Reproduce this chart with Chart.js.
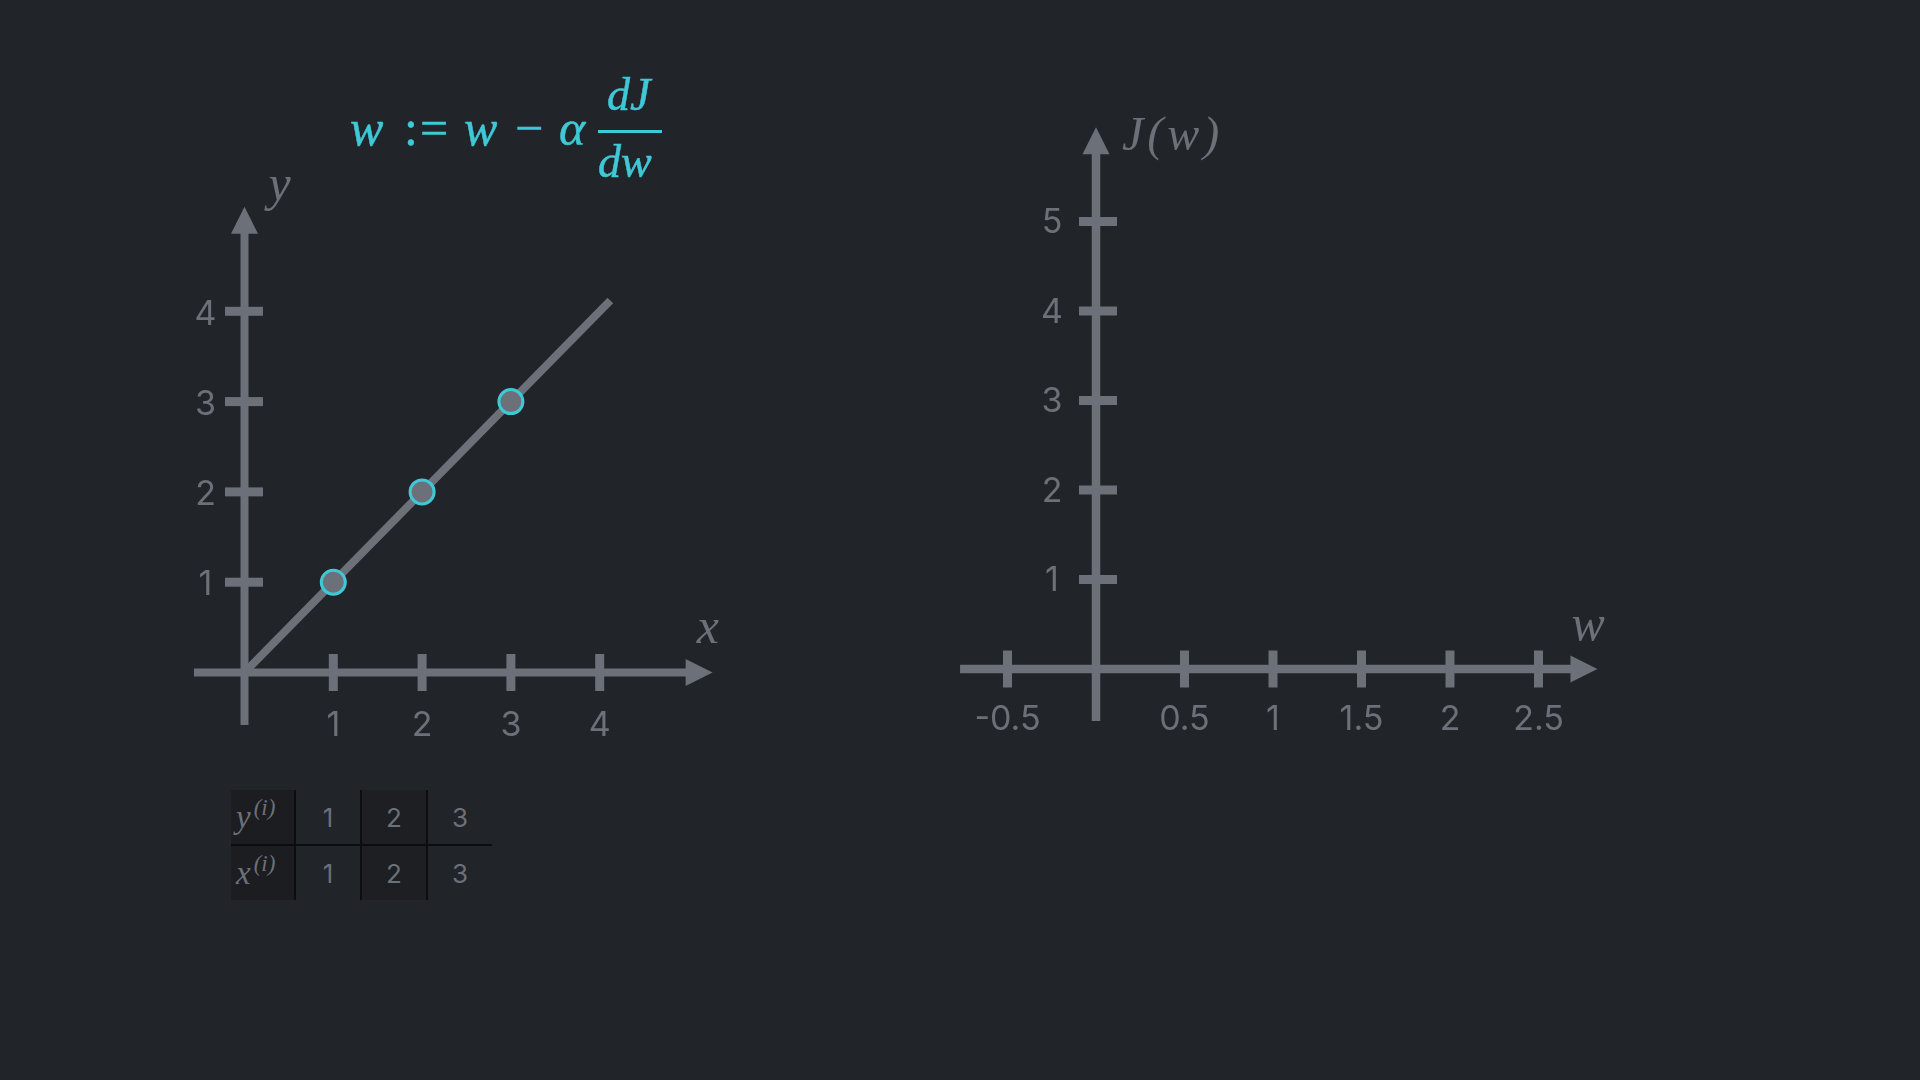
<!DOCTYPE html>
<html><head><meta charset="utf-8">
<script src="https://cdn.jsdelivr.net/npm/chart.js@4/dist/chart.umd.min.js"></script>
<style>
html,body{margin:0;padding:0;background:#212429;width:1920px;height:1080px;overflow:hidden;}
#stage{position:relative;width:1920px;height:1080px;}
canvas{position:absolute;}
.tok{position:absolute;color:#3fc9d6;font-family:"Liberation Serif",serif;white-space:nowrap;line-height:1;-webkit-text-stroke:0.5px #3fc9d6;}
.it{font-style:italic;}
#bar{position:absolute;background:#3fc9d6;}
#tbl{position:absolute;left:231px;top:790px;border-collapse:collapse;font-family:Inter,sans-serif;color:#6b7079;}
#tbl td{padding:0;height:54px;text-align:center;font-size:26px;}
#tbl td.h{width:64px;font-family:"Liberation Serif",serif;font-style:italic;font-size:33px;text-align:left;padding-left:5px;box-sizing:border-box;}
#tbl td.h sup{font-size:23px;position:relative;top:-4px;vertical-align:top;margin-left:3px;}
</style></head><body>
<div id="stage">
<canvas id="left" width="600" height="600" style="left:150px;top:160px;width:600px;height:600px"></canvas>
<canvas id="right" width="720" height="660" style="left:930px;top:100px;width:720px;height:660px"></canvas>
<div id="formula"></div>
<table id="tbl"></table>
</div>
<script>
// ---- data ----
const sampleX = [1, 2, 3];
const sampleY = [1, 2, 3];
const fitLineX = [0, 4.12];
const fitLineY = [0, 4.12];
const leftXTicks = [1, 2, 3, 4];
const leftYTicks = [1, 2, 3, 4];
const costWTicks = [-0.5, 0.5, 1, 1.5, 2, 2.5];
const costJTicks = [1, 2, 3, 4, 5];
const tableRows = [
  { name: 'y', values: sampleY },
  { name: 'x', values: sampleX }
];

// ---- styles ----
const AXIS = '#6b7079';
const CYAN = '#3fc9d6';

function rangeFor(originPx, unitPx, sizePx, inverted) {
  if (!inverted) return { min: -originPx / unitPx, max: (sizePx - originPx) / unitPx };
  return { min: -(sizePx - originPx) / unitPx, max: originPx / unitPx };
}

const arrowAxes = {
  id: 'arrowAxes',
  beforeDatasetsDraw(chart, args, o) {
    const ctx = chart.ctx, xs = chart.scales.x, ys = chart.scales.y;
    const ox = xs.getPixelForValue(0), oy = ys.getPixelForValue(0);
    ctx.save();
    ctx.fillStyle = AXIS;
    const lw = o.lineWidth;
    // horizontal axis
    const hx0 = xs.getPixelForValue(o.xFrom), hxTip = xs.getPixelForValue(o.xTo);
    ctx.fillRect(hx0, oy - lw / 2, (hxTip - o.arrowLen) - hx0 + 1, lw);
    ctx.beginPath();
    ctx.moveTo(hxTip, oy);
    ctx.lineTo(hxTip - o.arrowLen, oy - o.arrowHalf);
    ctx.lineTo(hxTip - o.arrowLen, oy + o.arrowHalf);
    ctx.closePath(); ctx.fill();
    // vertical axis
    const vy0 = ys.getPixelForValue(o.yFrom), vyTip = ys.getPixelForValue(o.yTo);
    ctx.fillRect(ox - lw / 2, vyTip + o.arrowLen - 1, lw, vy0 - (vyTip + o.arrowLen) + 1);
    ctx.beginPath();
    ctx.moveTo(ox, vyTip);
    ctx.lineTo(ox - o.arrowHalf, vyTip + o.arrowLen);
    ctx.lineTo(ox + o.arrowHalf, vyTip + o.arrowLen);
    ctx.closePath(); ctx.fill();
    // ticks
    o.xTicks.forEach(v => {
      const px = xs.getPixelForValue(v);
      ctx.fillRect(px - o.tickWidth / 2, oy - o.xTickUp, o.tickWidth, o.xTickUp + o.xTickDown);
    });
    o.yTicks.forEach(v => {
      const py = ys.getPixelForValue(v);
      ctx.fillRect(ox - o.yTickLeft, py - o.tickWidth / 2, o.yTickLeft + o.yTickRight, o.tickWidth);
    });
    // tick labels
    ctx.font = o.tickFont;
    ctx.textAlign = 'center';
    ctx.textBaseline = 'middle';
    o.xTicks.forEach(v => ctx.fillText(String(v), xs.getPixelForValue(v), oy + o.xLabelDy));
    o.yTicks.forEach(v => ctx.fillText(String(v), ox + o.yLabelDx, ys.getPixelForValue(v) + o.yLabelDy));
    // axis names
    ctx.font = o.nameFont;
    ctx.textAlign = 'left';
    ctx.textBaseline = 'alphabetic';
    ctx.fillText(o.xName.text, hxTip + o.xName.dx, oy + o.xName.dy);
    ctx.font = o.yName.font || o.nameFont;
    if (o.yName.spacing) ctx.letterSpacing = o.yName.spacing;
    ctx.fillText(o.yName.text, ox + o.yName.dx, vyTip + o.yName.dy);
    ctx.restore();
  }
};
Chart.register(arrowAxes);

function baseOptions(xr, yr, axesOpts) {
  return {
    responsive: false, animation: false, devicePixelRatio: 1,
    layout: { padding: 0, autoPadding: false },
    scales: {
      x: { type: 'linear', min: xr.min, max: xr.max, display: false },
      y: { type: 'linear', min: yr.min, max: yr.max, display: false }
    },
    plugins: { legend: { display: false }, tooltip: { enabled: false }, arrowAxes: axesOpts },
    events: []
  };
}

// ---- left chart: samples and fitted line ----
new Chart(document.getElementById('left'), {
  type: 'scatter',
  data: {
    datasets: [
      {
        data: sampleX.map((x, i) => ({ x, y: sampleY[i] })),
        pointRadius: 12, pointBackgroundColor: AXIS, pointBorderColor: CYAN, pointBorderWidth: 3
      },
      {
        type: 'line',
        data: fitLineX.map((x, i) => ({ x, y: fitLineY[i] })),
        borderColor: AXIS, borderWidth: 8, pointRadius: 0, borderCapStyle: 'butt', fill: false
      }
    ]
  },
  options: baseOptions(rangeFor(94.5, 88.8, 600), rangeFor(512.5, 90.3, 600, true), {
    lineWidth: 8, arrowLen: 27, arrowHalf: 13.5,
    xFrom: -0.569, xTo: 5.272, yFrom: -0.581, yTo: 5.158,
    xTicks: leftXTicks, yTicks: leftYTicks,
    tickWidth: 9, xTickUp: 18.5, xTickDown: 18.5, yTickLeft: 19.5, yTickRight: 18.5,
    xLabelDy: 53, yLabelDx: -39, yLabelDy: 3,
    tickFont: '34px Inter',
    nameFont: 'italic 50px "Liberation Serif"',
    xName: { text: 'x', dx: -16, dy: -29.5 },
    yName: { text: 'y', dx: 24, dy: -7 }
  })
});

// ---- right chart: empty cost axes J(w) ----
new Chart(document.getElementById('right'), {
  type: 'scatter',
  data: { datasets: [] },
  options: baseOptions(rangeFor(166, 177, 720), rangeFor(569, 89.5, 660, true), {
    lineWidth: 8.5, arrowLen: 27, arrowHalf: 13.5,
    xFrom: -0.768, xTo: 2.833, yFrom: -0.581, yTo: 6.053,
    xTicks: costWTicks, yTicks: costJTicks,
    tickWidth: 9, xTickUp: 18.5, xTickDown: 18.5, yTickLeft: 17, yTickRight: 21,
    xLabelDy: 51, yLabelDx: -44, yLabelDy: 1.5,
    tickFont: '34px Inter',
    nameFont: 'italic 50px "Liberation Serif"',
    xName: { text: 'w', dx: -26, dy: -29 },
    yName: { text: 'J(w)', dx: 26, dy: 23, font: 'italic 48px "Liberation Serif"', spacing: '4px' }
  })
});

// ---- formula (HTML text) ----
const formula = document.getElementById('formula');
function tok(text, left, baseline, size, italic) {
  const s = document.createElement('span');
  s.className = 'tok' + (italic ? ' it' : '');
  s.textContent = text;
  s.style.fontSize = size + 'px';
  s.style.left = left + 'px';
  s.style.top = (baseline - 0.8375 * size) + 'px';
  formula.appendChild(s);
}
tok('w', 350, 145, 50, true);
tok(':', 404, 145, 50, false);
tok('=', 420, 145, 50, false);
tok('w', 464, 145, 50, true);
tok('\u2212', 515, 145, 50, false);
tok('\u03B1', 559, 145, 50, true);
tok('dJ', 607, 111, 46, true);
tok('dw', 598, 178, 46, true);
const bar = document.createElement('div');
bar.id = 'bar';
Object.assign(bar.style, { left: '598px', top: '130px', width: '64px', height: '3px' });
formula.appendChild(bar);

// ---- data table ----
const tbl = document.getElementById('tbl');
tableRows.forEach((row, r) => {
  const tr = document.createElement('tr');
  const th = document.createElement('td');
  th.className = 'h';
  th.innerHTML = row.name + '<sup>(i)</sup>';
  th.style.background = '#1b1d20';
  th.style.borderRight = '2px solid #0c0d0e';
  if (r === 0) th.style.borderBottom = '2px solid #0c0d0e';
  tr.appendChild(th);
  row.values.forEach((v, c) => {
    const td = document.createElement('td');
    td.textContent = v;
    td.style.width = '64px';
    if (c < 2) td.style.borderRight = '2px solid #0c0d0e';
    if (r === 0) td.style.borderBottom = '2px solid #0c0d0e';
    if (c === 1) td.style.background = '#1d1f22';
    tr.appendChild(td);
  });
  tbl.appendChild(tr);
});
</script>
</body></html>
